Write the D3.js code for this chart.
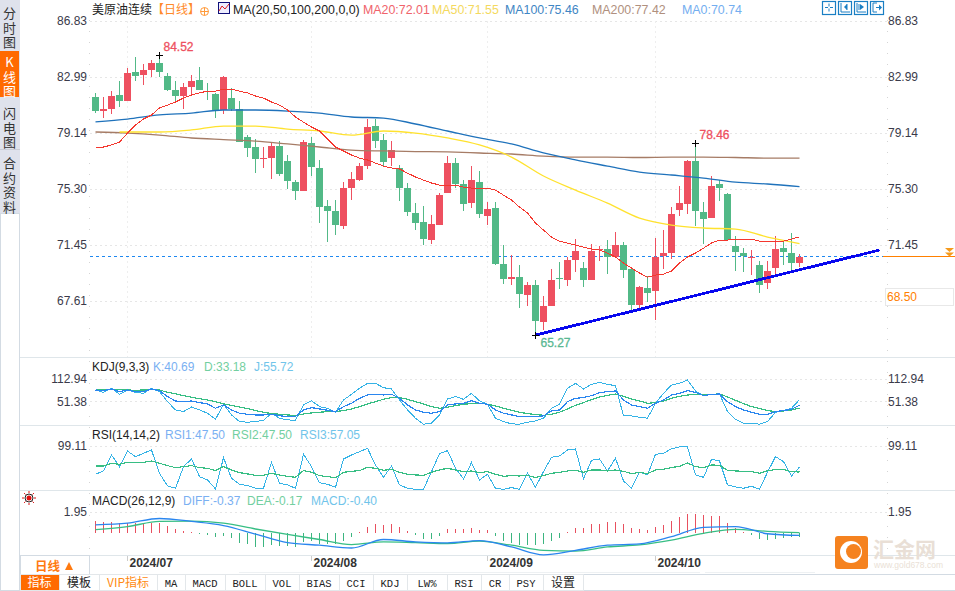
<!DOCTYPE html>
<html lang="en">

<head>
  <meta charset="utf-8">
  <script src="https://d3js.org/d3.v7.min.js" type="text/javascript"></script>
  <style>
    html, body { margin: 0; padding: 0; background: #fff; overflow: hidden; }
    text { font-family: "Liberation Sans", Arial, sans-serif; font-size: 12px; }
    .cjk { font-family: "Noto Sans CJK SC", sans-serif; }
    .mono { font-family: "Liberation Mono", monospace; }
  </style>
</head>

<body>
  <div id='chart'></div>
  <script>
  const width = 955
  const height = 591

  // open, high, low, close
  const candles = [
    [81.61,81.89,80.51,80.65],[80.65,81.61,80.17,80.79],[80.79,82.02,80.44,81.68],[81.75,82.71,80.92,81.34],
    [81.34,83.60,81.34,83.26],[83.33,84.36,82.71,83.05],[83.12,83.88,82.44,83.47],[83.47,84.15,82.98,83.95],
    [83.95,84.52,82.98,83.33],[83.05,83.26,82.02,82.09],[82.09,82.71,81.27,81.68],[81.68,82.57,80.79,82.30],
    [82.30,83.12,81.68,82.71],[82.78,83.67,82.09,82.09],[82.02,82.57,81.41,81.95],[81.82,81.89,80.17,80.72],
    [80.72,83.05,80.44,82.98],[81.54,82.23,80.65,80.79],[80.79,81.34,78.52,78.52],[78.87,79.00,77.49,78.11],
    [78.18,78.73,76.39,77.35],[77.35,78.18,76.74,77.42],[77.42,78.52,75.98,78.25],[78.25,78.59,76.19,76.32],
    [77.22,77.63,75.30,75.84],[75.77,75.91,74.54,75.16],[75.16,78.66,75.16,78.52],[78.45,78.87,76.19,76.81],
    [76.74,77.29,72.96,74.06],[74.13,74.54,71.66,73.79],[73.79,74.54,72.14,72.82],[72.75,75.77,72.55,75.36],
    [75.36,76.46,74.54,75.98],[75.91,77.08,75.84,76.87],[76.87,80.10,76.67,79.55],[79.62,80.10,78.11,78.59],
    [78.66,79.07,76.81,77.15],[77.42,78.59,76.87,77.97],[76.74,76.94,74.47,75.36],[75.36,75.71,73.44,73.72],
    [73.65,74.33,72.48,72.96],[73.03,74.13,71.45,71.86],[71.79,73.51,71.52,72.89],[72.82,75.02,72.82,74.88],
    [75.02,77.56,75.02,77.08],[77.08,77.42,75.36,75.64],[75.64,75.91,73.79,74.27],[74.33,76.87,73.99,75.91],
    [75.77,76.53,73.30,73.58],[73.44,74.40,72.82,73.92],[73.99,74.40,70.08,70.14],[70.14,71.45,68.77,69.12],
    [69.12,70.76,68.70,69.25],[69.25,70.08,67.12,68.09],[68.02,68.91,67.26,68.70],[68.70,69.05,65.27,66.23],
    [66.16,67.95,65.62,67.26],[67.26,69.80,67.26,69.05],[69.18,70.28,68.43,69.12],[69.05,70.63,68.63,70.42],
    [70.42,71.86,69.60,71.04],[69.87,70.28,68.57,69.05],[69.05,71.52,69.05,71.04],[71.11,71.38,70.35,71.18],
    [71.18,71.79,69.46,70.63],[70.63,72.34,70.63,71.45],[71.45,71.66,69.18,69.73],[69.80,69.80,66.85,67.33],
    [67.33,68.63,67.12,68.57],[68.50,69.32,67.54,68.15],[68.29,71.93,66.30,70.63],[70.69,72.48,69.80,70.90],
    [70.90,74.06,70.49,73.58],[73.85,75.50,73.44,74.33],[74.27,77.29,73.58,77.22],[77.22,78.46,72.75,73.79],
    [73.72,74.40,71.52,73.23],[73.30,76.19,73.30,75.50],[75.64,75.91,74.47,75.36],[74.95,75.02,71.79,71.79],
    [71.38,72.07,69.67,70.97],[70.90,71.24,69.60,70.69],[70.56,71.11,69.39,70.63],[70.08,70.35,68.15,68.70],
    [68.84,70.35,68.43,69.67],[69.87,72.07,69.32,71.18],[71.24,71.72,70.08,70.97],[70.90,72.27,69.73,70.21],
    [70.21,70.83,69.94,70.63]
  ]

  const ma20 = [78.11,78.18,78.32,78.52,79.14,79.69,80.10,80.38,80.86,81.06,81.27,81.54,81.75,81.89,82.02,82.02,82.16,82.16,82.02,81.89,
    81.68,81.54,81.27,81.06,80.72,80.24,79.89,79.55,79.28,78.73,78.18,77.91,77.63,77.42,77.29,77.08,76.87,76.74,76.67,76.39,
    76.12,75.91,75.71,75.57,75.57,75.57,75.43,75.36,75.36,75.36,75.22,74.88,74.54,74.06,73.65,72.96,72.48,72.00,71.72,71.59,
    71.45,71.31,71.18,71.11,70.90,70.63,70.21,69.87,69.53,69.25,69.39,69.46,69.67,70.21,70.63,70.90,71.24,71.59,71.79,71.79,
    71.86,71.86,71.86,71.72,71.66,71.66,71.72,71.86,72.01]

  // the slow averages were read every fourth day
  const slowDays = d3.range(0, 89, 4)
  const ma50Days = [3].concat(slowDays.slice(1))
  const ma50 = [79.21,79.21,79.21,79.35,79.62,79.62,79.41,79.28,79.00,79.28,79.14,78.80,78.32,77.49,76.19,75.22,74.33,73.30,72.82,72.62,72.55,72.00,71.55]
  const ma100 = [79.90,80.10,80.38,80.51,80.72,80.72,80.65,80.51,80.24,80.17,79.76,79.28,78.80,78.39,77.77,77.29,76.87,76.46,76.26,76.05,75.77,75.64,75.46]
  const ma200 = [79.21,79.14,79.00,78.80,78.69,78.59,78.39,78.18,77.97,77.91,77.87,77.84,77.77,77.70,77.56,77.49,77.49,77.46,77.49,77.49,77.46,77.42,77.42]

  const kdjK = [82.2,80.4,84.9,77.7,82.2,77.7,77.7,84.9,80.4,64.1,52.3,50.5,52.3,47.8,44.2,32.4,41.5,27.9,18.8,16.1,14.3,14.3,16.1,12.5,8.9,9.8,27.9,34.2,30.6,27.0,
    23.4,36.9,46.0,59.5,68.6,70.4,68.6,70.4,59.5,41.5,27.9,21.5,18.8,23.4,41.5,44.2,46.0,53.2,46.0,43.3,27.9,18.8,14.3,9.8,9.8,9.8,11.6,25.2,27.9,50.5,
    59.5,61.4,66.8,74.9,77.7,79.5,55.0,41.5,36.9,32.4,46.0,55.0,68.6,73.1,80.4,75.8,66.8,70.4,71.3,50.5,36.9,27.9,21.5,16.1,16.1,23.4,26.1,29.7,40.69]
  const kdjD = [84.0,84.0,84.0,83.1,82.2,81.3,82.2,83.1,82.2,75.8,72.2,66.8,62.3,58.7,55.0,50.5,44.2,40.5,36.0,31.5,26.1,21.5,17.9,16.1,14.3,12.5,17.0,19.7,21.5,23.4,
    23.4,26.1,30.6,36.9,44.2,50.5,56.8,61.4,61.4,56.8,50.5,44.2,36.9,32.4,35.1,39.6,43.3,45.1,46.0,43.3,38.7,32.4,27.0,21.5,17.9,15.2,13.4,16.1,21.5,30.6,
    40.5,47.8,55.9,63.2,67.7,71.3,65.0,57.7,52.3,46.0,47.8,52.3,59.5,65.0,68.6,69.5,69.5,70.4,71.3,63.2,54.1,45.1,36.9,31.5,26.1,23.4,25.2,27.9,33.18]
  const kdjJ = [82.2,75.8,86.7,70.4,82.2,75.8,73.1,86.7,77.7,50.5,27.9,23.4,36.0,27.9,18.8,2.5,43.3,14.3,-3.8,-5.6,-3.8,-0.2,18.8,5.3,0.7,-0.2,41.5,53.2,36.9,32.4,
    21.5,55.0,70.4,86.7,100.3,100.3,88.5,84.9,55.0,27.9,5.3,-11.0,-8.3,14.3,57.7,64.1,56.8,73.1,52.3,43.3,5.3,-3.8,-10.1,-11.0,-5.6,-2.0,5.3,32.4,43.3,86.7,
    100.3,84.9,97.6,103.0,97.6,93.9,11.6,11.6,8.0,5.3,46.0,73.1,95.7,100.3,109.3,79.5,66.8,70.4,71.3,23.4,2.5,-8.3,-8.3,-11.0,-3.8,21.5,26.1,32.4,55.72]

  const rsi1 = [59.3,59.3,64.6,62.6,66.5,66.5,66.5,69.1,64.6,60.0,56.1,58.0,60.0,56.1,54.8,50.2,58.0,51.5,46.3,43.7,41.0,41.0,45.0,41.7,39.1,37.1,50.2,46.9,40.4,38.4,
    36.5,46.9,48.9,50.2,56.7,54.8,50.8,52.8,46.9,43.0,41.7,41.0,46.9,51.5,54.8,51.5,48.2,49.5,46.3,48.2,43.0,39.1,40.4,39.7,41.0,36.5,40.4,45.0,46.9,49.5,
    50.8,46.9,51.5,51.5,49.5,51.5,48.9,44.3,46.9,44.3,51.5,52.8,56.1,58.7,65.2,58.0,56.1,61.3,60.6,50.8,49.5,48.9,48.2,45.0,50.2,52.2,52.2,48.2,47.5]
  const rsi3 = [43.0,49.6,80.9,58.0,88.7,77.6,84.2,90.7,45.0,20.1,15.6,58.0,73.0,38.4,31.9,14.3,75.6,35.2,23.4,20.8,15.6,15.6,66.5,25.4,22.1,15.6,82.2,58.0,26.7,23.4,
    17.5,73.0,80.9,87.4,94.0,61.3,37.1,59.3,22.1,15.6,13.6,13.6,48.2,83.5,89.4,54.8,33.9,65.9,31.9,43.0,15.6,13.6,16.9,13.6,45.0,17.5,48.2,76.3,78.9,90.7,
    92.7,33.9,70.4,73.0,49.5,74.4,29.9,15.6,46.9,41.7,82.2,84.2,93.3,96.6,96.6,41.7,37.1,72.4,69.1,22.1,18.2,15.6,19.5,13.6,46.9,77.6,67.8,39.7,57.05]

  const macdBars = [1.12,1.02,1.02,.96,.96,.96,.90,.90,.90,.64,.38,.19,.06,-.06,-.22,-.38,-.32,-.54,-.93,-1.06,-1.34,-1.38,-1.18,-1.25,-1.28,-1.38,-.86,-.80,-1.02,-1.02,
    -1.09,-.80,-.45,.02,.58,.83,.74,.80,.58,.16,-.22,-.61,-.61,-.35,.32,.35,.38,.48,.26,.26,-.32,-.77,-.96,-1.12,-1.12,-1.12,-1.02,-.80,-.48,.02,
    .48,.48,.80,.86,.99,.99,.86,.48,.38,.26,.58,.74,1.12,1.44,1.79,1.79,1.63,1.54,1.54,.90,.48,.10,-.22,-.61,-.70,-.58,-.48,-.42,-.40]
  const diff = [.74,.90,1.34,1.06,.67,-.13,-.93,-1.18,-1.44,-.64,-.86,-.96,-.74,-1.34,-2.08,-1.66,-1.18,-1.06,-.38,.51,.58,-.10,-.26]
  const dea = [.29,.58,1.06,1.09,.90,.35,-.16,-.64,-1.12,-.86,-.93,-1.02,-.80,-1.18,-1.66,-1.73,-1.34,-1.15,-.70,-.06,.32,.13,0]

  const priceTicks = [86.83, 82.99, 79.14, 75.30, 71.45, 67.61]
  const rightPriceTicks = priceTicks.slice(0, 5) // 67.61 sits behind the 68.50 box on the right
  const kdjTicks = [112.94, 51.38]
  const rsiTicks = [99.11]
  const macdTicks = [1.95]
  const lastPrice = 70.69
  const monthLabels = [["2024/07", 4], ["2024/08", 27], ["2024/09", 49], ["2024/10", 70]]
  const trendLine = [[55, 65.27], [98, 71.11]]

  const sideTabs = [["分时图", 4, 50, 13, false], ["K线图", 51, 97, 62, true], ["闪电图", 98, 149, 113, false], ["合约资料", 150, 212, 163, false]]
  const bottomTabs = [["指标",20,59],["模板",59,99],["VIP指标",99,157],["MA",157,185],["MACD",185,225],["BOLL",225,265],["VOL",265,299],
    ["BIAS",299,339],["CCI",339,373],["KDJ",373,407],["LW%",407,447],["RSI",447,481],["CR",481,509],["PSY",509,543],["设置",543,583]]

  const red = "#ee5060", green = "#52b987"
  const left = 90, right = 883

  const svg = d3.select('#chart').append("svg").attr("width", width).attr("height", height).style("display", "block")

  const x = d3.scaleLinear().domain([0, 88]).range([95.5, 799.5])
  const yPrice = d3.scaleLinear().domain([67.61, 86.83]).range([301, 21])
  const yKdj = d3.scaleLinear().domain([51.38, 112.94]).range([401.3, 378.7])
  const yRsi = d3.scaleLinear().domain([47.5, 99.11]).range([472, 445.7])
  const yMacd = d3.scaleLinear().domain([0, 1.95]).range([532.7, 512])

  ////////////////////////// grid and axes //////////////////////////

  const grid = svg.append("g")
  function hGrid(scale, ticks) {
    grid.selectAll(null).data(ticks).enter().append("line")
      .attr("x1", left).attr("x2", right + 4)
      .attr("y1", d => Math.round(scale(d)) + .5).attr("y2", d => Math.round(scale(d)) + .5)
      .attr("stroke", "#e6e6e6").attr("stroke-dasharray", "2,3")
  }
  hGrid(yPrice, priceTicks); hGrid(yKdj, kdjTicks); hGrid(yRsi, rsiTicks); hGrid(yMacd, macdTicks)

  grid.selectAll(null).data(monthLabels).enter().append("line")
    .attr("x1", d => Math.floor(x(d[1])) + .5).attr("x2", d => Math.floor(x(d[1])) + .5)
    .attr("y1", 21).attr("y2", 358)
    .attr("stroke", "#eeeeee").attr("stroke-dasharray", "2,3")

  // panel separators
  grid.selectAll(null).data([357.5, 425.5, 490.5, 555.5]).enter().append("line")
    .attr("x1", 20).attr("x2", width).attr("y1", d => d).attr("y2", d => d)
    .attr("stroke", "#dfe6ea")
  // dotted axis spines
  grid.selectAll(null).data([89.5, 887.5]).enter().append("line")
    .attr("x1", d => d).attr("x2", d => d).attr("y1", 20).attr("y2", 555)
    .attr("stroke", "#d5d5d5").attr("stroke-dasharray", "1,10")

  function priceAxes(scale, ticks, rightTicks) {
    const fmt = d => d.toFixed(2)
    const a = svg.append("g").attr("transform", "translate(87,0)").call(d3.axisLeft(scale).tickValues(ticks).tickSize(0).tickPadding(0).tickFormat(fmt))
    const b = svg.append("g").attr("transform", "translate(888,0)").call(d3.axisRight(scale).tickValues(rightTicks || ticks).tickSize(0).tickPadding(0).tickFormat(fmt))
    for (const g of [a, b]) {
      g.select(".domain").remove()
      g.selectAll("text").attr("fill", "#3a3a4a").style("font-size", "12px").style("font-family", '"Liberation Sans", Arial, sans-serif')
    }
  }
  priceAxes(yPrice, priceTicks, rightPriceTicks); priceAxes(yKdj, kdjTicks); priceAxes(yRsi, rsiTicks); priceAxes(yMacd, macdTicks)

  // month axis
  svg.append("g").selectAll(null).data(monthLabels).enter().append("text")
    .attr("x", d => x(d[1]) + 2).attr("y", 567)
    .attr("font-weight", "bold").attr("fill", "#333").text(d => d[0])
  svg.selectAll(null).data(monthLabels).enter().append("line")
    .attr("x1", d => Math.floor(x(d[1])) + .5).attr("x2", d => Math.floor(x(d[1])) + .5)
    .attr("y1", 556).attr("y2", 561).attr("stroke", "#ccc")

  ////////////////////////// last price line //////////////////////////

  const yLast = Math.round(yPrice(lastPrice)) + .5
  svg.append("line").attr("x1", left).attr("x2", right).attr("y1", yLast).attr("y2", yLast)
    .attr("stroke", "#1e88f0").attr("stroke-dasharray", "3,3")
  svg.append("line").attr("x1", right).attr("x2", width).attr("y1", yLast).attr("y2", yLast)
    .attr("stroke", "#ff8000")
  svg.append("path").attr("d", "M945,248h9l-4.5,4zM945,252.5h9l-4.5,4z").attr("fill", "#f59a1c")
  svg.append("rect").attr("x", 885.5).attr("y", 288.5).attr("width", 68).attr("height", 17)
    .attr("fill", "#fff").attr("stroke", "#e8e8e8")
  svg.append("text").attr("x", 887).attr("y", 301).attr("fill", "#ff8000").text("68.50")

  ////////////////////////// candles //////////////////////////

  const candle = svg.append("g").selectAll("g").data(candles).enter().append("g")
    .attr("shape-rendering", "crispEdges")
    .attr("fill", d => d[3] >= d[0] ? red : green)
  candle.append("rect")
    .attr("x", (d, i) => Math.floor(x(i)))
    .attr("width", 1)
    .attr("y", d => yPrice(d[1]))
    .attr("height", d => yPrice(d[2]) - yPrice(d[1]))
  candle.append("rect")
    .attr("x", (d, i) => Math.floor(x(i)) - 3)
    .attr("width", 7)
    .attr("y", d => yPrice(Math.max(d[0], d[3])))
    .attr("height", d => Math.max(1, Math.abs(yPrice(d[0]) - yPrice(d[3]))))

  ////////////////////////// lines //////////////////////////

  // smooth slow lines stay anti-aliased, crisp ones leave gaps on flat runs
  function drawLine(days, values, scale, color, curve, sw) {
    const line = d3.line().x(d => x(d[0])).y(d => scale(d[1])).curve(curve || d3.curveLinear)
    svg.append("path").datum(values.map((v, i) => [days[i], v])).attr("d", line)
      .attr("fill", "none").attr("stroke", color).attr("stroke-width", sw || 1)
      .attr("shape-rendering", curve ? "auto" : "crispEdges")
  }
  const allDays = d3.range(0, 89)
  drawLine(slowDays, ma200, yPrice, "#a67c66", d3.curveMonotoneX, 1.3)
  drawLine(ma50Days, ma50, yPrice, "#ffe22e", d3.curveMonotoneX, 1.3)
  drawLine(slowDays, ma100, yPrice, "#1f72bb", d3.curveMonotoneX, 1.3)
  drawLine(allDays, ma20, yPrice, "#f4372e", null, 1)

  // hand drawn support line
  svg.append("line")
    .attr("x1", x(trendLine[0][0])).attr("y1", yPrice(trendLine[0][1]))
    .attr("x2", x(trendLine[1][0])).attr("y2", yPrice(trendLine[1][1]))
    .attr("stroke", "#0707ef").attr("stroke-width", 2.8).attr("shape-rendering", "crispEdges")

  drawLine(allDays, kdjJ, yKdj, "#35b3e6")
  drawLine(allDays, kdjD, yKdj, "#37be84", null, 1.2)
  drawLine(allDays, kdjK, yKdj, "#2a86ef", null, 1.2)

  drawLine(allDays, rsi3, yRsi, "#35b3e6")
  drawLine(allDays, rsi1, yRsi, "#37be84", null, 1.2)

  svg.append("g").selectAll("rect").data(macdBars).enter().append("rect")
    .attr("shape-rendering", "crispEdges")
    .attr("x", (d, i) => Math.floor(x(i)))
    .attr("width", 1)
    .attr("y", d => d >= 0 ? yMacd(d) : yMacd(0))
    .attr("height", d => Math.max(1, Math.abs(yMacd(d) - yMacd(0))))
    .attr("fill", d => d >= 0 ? "#e8505f" : "#3cb580")
  drawLine(slowDays, dea, yMacd, "#37be84", d3.curveMonotoneX, 1.3)
  drawLine(slowDays, diff, yMacd, "#2a86ef", d3.curveMonotoneX, 1.3)

  ////////////////////////// high and low marks //////////////////////////

  const marks = [[8, 84.52, red, 4, -4], [75, 78.46, red, 4, -4], [55, 65.27, "#5ab892", 5, 12]]
  svg.selectAll(null).data(marks).enter().append("path")
    .attr("d", d => `M${Math.floor(x(d[0])) - 3},${Math.round(yPrice(d[1])) + .5}h7M${Math.floor(x(d[0])) + .5},${Math.round(yPrice(d[1])) - 3}v7`)
    .attr("stroke", "#000").attr("fill", "none")
  svg.selectAll(null).data(marks).enter().append("text")
    .attr("x", d => x(d[0]) + d[3]).attr("y", d => yPrice(d[1]) + d[4])
    .attr("fill", d => d[2]).attr("stroke", d => d[2]).attr("stroke-width", .3).text(d => d[1].toFixed(2))

  ////////////////////////// titles //////////////////////////

  svg.append("text").attr("class", "cjk").attr("x", 92).attr("y", 14).attr("fill", "#222").style("font-size", "12px").text("美原油连续")
  svg.append("text").attr("class", "cjk").attr("x", 152).attr("y", 14).attr("fill", "#ff8a2a").style("font-size", "12px").text("【日线】")
  svg.append("circle").attr("cx", 204.5).attr("cy", 11.5).attr("r", 4).attr("fill", "none").attr("stroke", "#ff9a3a")
  svg.append("path").attr("d", "M200.5,11.5h8M204.5,7.5v8").attr("stroke", "#ff9a3a")
  svg.append("rect").attr("x", 218.5).attr("y", 2.5).attr("width", 11).attr("height", 11).attr("fill", "#eef").attr("stroke", "#10107a")
  svg.append("path").attr("d", "M219,11L222,6L225,9L229,4").attr("fill", "none").attr("stroke", "#e02020")

  const topHeads = [
    [233, "MA(20,50,100,200,0,0)", "#222"], [363, "MA20:72.01", "#f0636b"], [432, "MA50:71.55", "#f4d95e"],
    [505, "MA100:75.46", "#3f86c4"], [592, "MA200:77.42", "#b0907e"], [682, "MA0:70.74", "#74aef0"]
  ]
  svg.selectAll(null).data(topHeads).enter().append("text")
    .attr("x", d => d[0]).attr("y", 13.5).attr("fill", d => d[2]).style("font-size", "12.4px").text(d => d[1])

  const heads = [
    [92, 371, "KDJ(9,3,3)", "#222"], [153, 371, "K:40.69", "#7ab0f2"], [204, 371, "D:33.18", "#72cfa0"], [254, 371, "J:55.72", "#70c4ea"],
    [92, 439, "RSI(14,14,2)", "#222"], [165, 439, "RSI1:47.50", "#7ab0f2"], [232, 439, "RSI2:47.50", "#72cfa0"], [300, 439, "RSI3:57.05", "#70c4ea"],
    [92, 505, "MACD(26,12,9)", "#222"], [183, 505, "DIFF:-0.37", "#7ab0f2"], [247, 505, "DEA:-0.17", "#72cfa0"], [311, 505, "MACD:-0.40", "#70c4ea"]
  ]
  svg.selectAll(null).data(heads).enter().append("text")
    .attr("x", d => d[0]).attr("y", d => d[1]).attr("fill", d => d[3]).text(d => d[2])

  // toolbar buttons top right
  const toolIcons = [
    d => `M${d + 3},7.5h3M${d + 8},7.5h3M${d + 7},3.5v3M${d + 7},8.5v3`,
    d => `M${d + 3},3v9h9M${d + 9},4v6`,
    d => `M${d + 3},3v9h9M${d + 5},4v6`,
    d => `M${d + 3},3v9M${d + 3},3h4M${d + 3},12h4M${d + 6},7.5h5`
  ]
  const toolHeads = [null, d => `M${d + 9},4v6l-3,-3z`, d => `M${d + 6},4v6l4,-3z`, d => `M${d + 9},4.5v6l3,-3z`]
  const tools = svg.append("g").selectAll("g").data([822, 838, 854, 870]).enter().append("g")
  tools.append("rect").attr("x", d => d + .5).attr("y", 1.5).attr("width", 13).attr("height", 13)
    .attr("fill", "#fff").attr("stroke", "#1a7fc4").attr("stroke-width", 1.2)
  tools.append("path").attr("d", (d, i) => toolIcons[i](d)).attr("fill", "none").attr("stroke", "#1a7fc4")
  tools.filter((d, i) => i > 0).append("path").attr("d", (d, i) => toolHeads[i + 1](d)).attr("fill", "#1a7fc4")

  ////////////////////////// sidebar //////////////////////////

  svg.append("rect").attr("x", 0).attr("y", 0).attr("width", 20).attr("height", 213).attr("fill", "#dfe2ec")
  svg.append("rect").attr("x", .5).attr("y", 213.5).attr("width", 19).attr("height", 377).attr("fill", "#fff").attr("stroke", "#d3dbe3")
  const sideG = svg.append("g").selectAll("g").data(sideTabs).enter().append("g")
  sideG.filter(d => d[4]).append("rect").attr("x", 0).attr("y", d => d[1]).attr("width", 19).attr("height", d => d[2] - d[1]).attr("fill", "#ff6a00")
  sideG.each(function (d) {
    const chars = Array.from(d[0])
    d3.select(this).selectAll("text").data(chars).enter().append("text")
      .attr("class", "cjk").attr("x", 9.5).attr("text-anchor", "middle")
      .attr("y", (c, i) => d[3] + 5 + i * 14.5)
      .attr("fill", d[4] ? "#fff" : "#333").style("font-size", "13px").text(c => c)
  })
  svg.append("line").attr("x1", 0).attr("x2", 20).attr("y1", 149.5).attr("y2", 149.5).attr("stroke", "#c9ccd6")

  // sun marker beside the MACD panel
  svg.append("circle").attr("cx", 29).attr("cy", 498).attr("r", 2.5).attr("fill", "#e01010")
  svg.append("circle").attr("cx", 29).attr("cy", 498).attr("r", 4).attr("fill", "none").attr("stroke", "#222")
  svg.append("g").selectAll("line").data(d3.range(8)).enter().append("line")
    .attr("x1", d => 29 + 5 * Math.cos(d * Math.PI / 4)).attr("y1", d => 498 + 5 * Math.sin(d * Math.PI / 4))
    .attr("x2", d => 29 + 7 * Math.cos(d * Math.PI / 4)).attr("y2", d => 498 + 7 * Math.sin(d * Math.PI / 4))
    .attr("stroke", "#e01010")

  ////////////////////////// bottom tabs //////////////////////////

  svg.append("rect").attr("x", 20.5).attr("y", 555.5).attr("width", 69).attr("height", 19).attr("fill", "#fff").attr("stroke", "#d3dbe3")
  svg.append("text").attr("class", "cjk").attr("x", 35).attr("y", 570.5).attr("fill", "#ff7a10").attr("font-weight", "bold").style("font-size", "12.5px").text("日线")
  svg.append("path").attr("d", "M65,570l4,-8l4,8z").attr("fill", "#ff7a10")
  svg.selectAll(null).data([[239, 700], [705, 815]]).enter().append("line")
    .attr("x1", d => d[0]).attr("x2", d => d[1]).attr("y1", 572.5).attr("y2", 572.5).attr("stroke", "#eef1f3")
  svg.append("line").attr("x1", 20).attr("x2", 955).attr("y1", 574.5).attr("y2", 574.5).attr("stroke", "#d3dbe3")
  svg.append("line").attr("x1", 20).attr("x2", 955).attr("y1", 590.5).attr("y2", 590.5).attr("stroke", "#d3dbe3")

  const tab = svg.append("g").selectAll("g").data(bottomTabs).enter().append("g")
  tab.append("rect").attr("x", d => d[1] + .5).attr("y", 574.5).attr("width", d => d[2] - d[1]).attr("height", 16)
    .attr("fill", (d, i) => i == 0 ? "#ff6a00" : "#fff").attr("stroke", "#e3e7ea")
  tab.append("text").attr("class", d => /[\u4e00-\u9fff]/.test(d[0]) ? "cjk" : "mono")
    .attr("x", d => (d[1] + d[2]) / 2).attr("y", 587).attr("text-anchor", "middle")
    .attr("fill", (d, i) => i == 0 ? "#fff" : i == 2 ? "#ff8a10" : "#222")
    .style("font-size", d => /[\u4e00-\u9fff]/.test(d[0]) ? "12px" : "10.5px").text(d => d[0])

  ////////////////////////// watermark //////////////////////////

  const wm = svg.append("g")
  wm.append("rect").attr("x", 835).attr("y", 536).attr("width", 33).attr("height", 33).attr("rx", 3).attr("fill", "#f5821f")
  wm.append("circle").attr("cx", 851).attr("cy", 552).attr("r", 11).attr("fill", "#fff")
  wm.append("circle").attr("cx", 853.5).attr("cy", 551.5).attr("r", 7.5).attr("fill", "#f5821f")
  wm.append("text").attr("class", "cjk").attr("x", 873).attr("y", 557).attr("fill", "#e9dfd6").attr("font-weight", "bold").style("font-size", "21px").text("汇金网")
  wm.append("text").attr("x", 874).attr("y", 568).attr("fill", "#eadfd6").style("font-size", "8.5px").text("www.gold678.com")
  </script>
</body>

</html>
